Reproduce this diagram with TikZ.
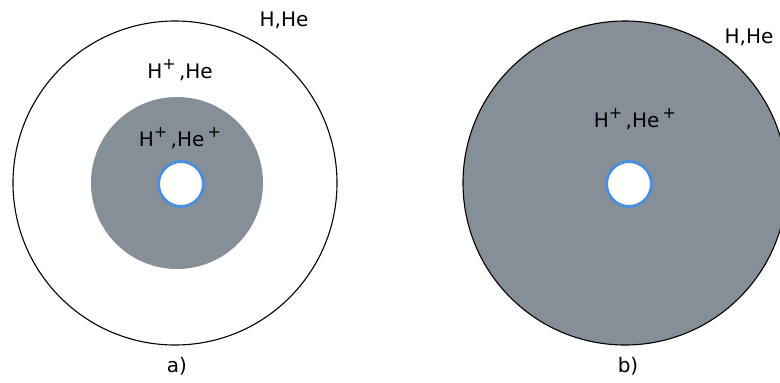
\documentclass[tikz,border=0pt]{standalone}
\usepackage{fontspec}
\setmainfont{DejaVu Sans}
\definecolor{plasma}{RGB}{134,143,152}
\definecolor{coreblue}{RGB}{74,144,217}
\newcommand{\ionplus}{\raisebox{0.45em}{\fontsize{16}{16}\selectfont +}}
\tikzset{
  shell/.style  ={draw=black, line width=1.1pt},
  ionized/.style={fill=plasma},
  core/.style   ={draw=coreblue, line width=3pt, fill=white},
  lbl/.style    ={font=\fontsize{20}{23}\selectfont, inner sep=0pt, anchor=base},
}

\begin{document}
\begin{tikzpicture}[x=1pt, y=-1pt]
  \useasboundingbox (0,0) rectangle (780,383);

  % a) ionised bubble inside neutral shell
  \coordinate (shellA) at (175,183);
  \coordinate (heA)    at (177,183);
  \coordinate (coreA)  at (181,184);
  \draw[shell, fill=white] (shellA) circle[radius=162pt];
  \fill[ionized] (heA) circle[radius=86pt];
  \draw[core] (coreA) circle[radius=22.5pt];

  \node[lbl] (neutA) at (284,26)  {H,He};
  \node[lbl] (hiiA)  at (180,78)  {H\ionplus\,,He};
  \node[lbl] (heiiA) at (180,146) {H\ionplus\,,He\,\ionplus};
  \node[lbl] (capA)  at (177,372) {a)};

  % b) fully ionised
  \coordinate (shellB) at (625,183);
  \coordinate (coreB)  at (629,184);
  \draw[shell, ionized] (shellB) circle[radius=162pt];
  \draw[core] (coreB) circle[radius=22.5pt];

  \node[lbl] (neutB) at (749,43)  {H,He};
  \node[lbl] (heiiB) at (635,127) {H\ionplus\,,He\,\ionplus};
  \node[lbl] (capB)  at (628,372) {b)};
\end{tikzpicture}
\end{document}
